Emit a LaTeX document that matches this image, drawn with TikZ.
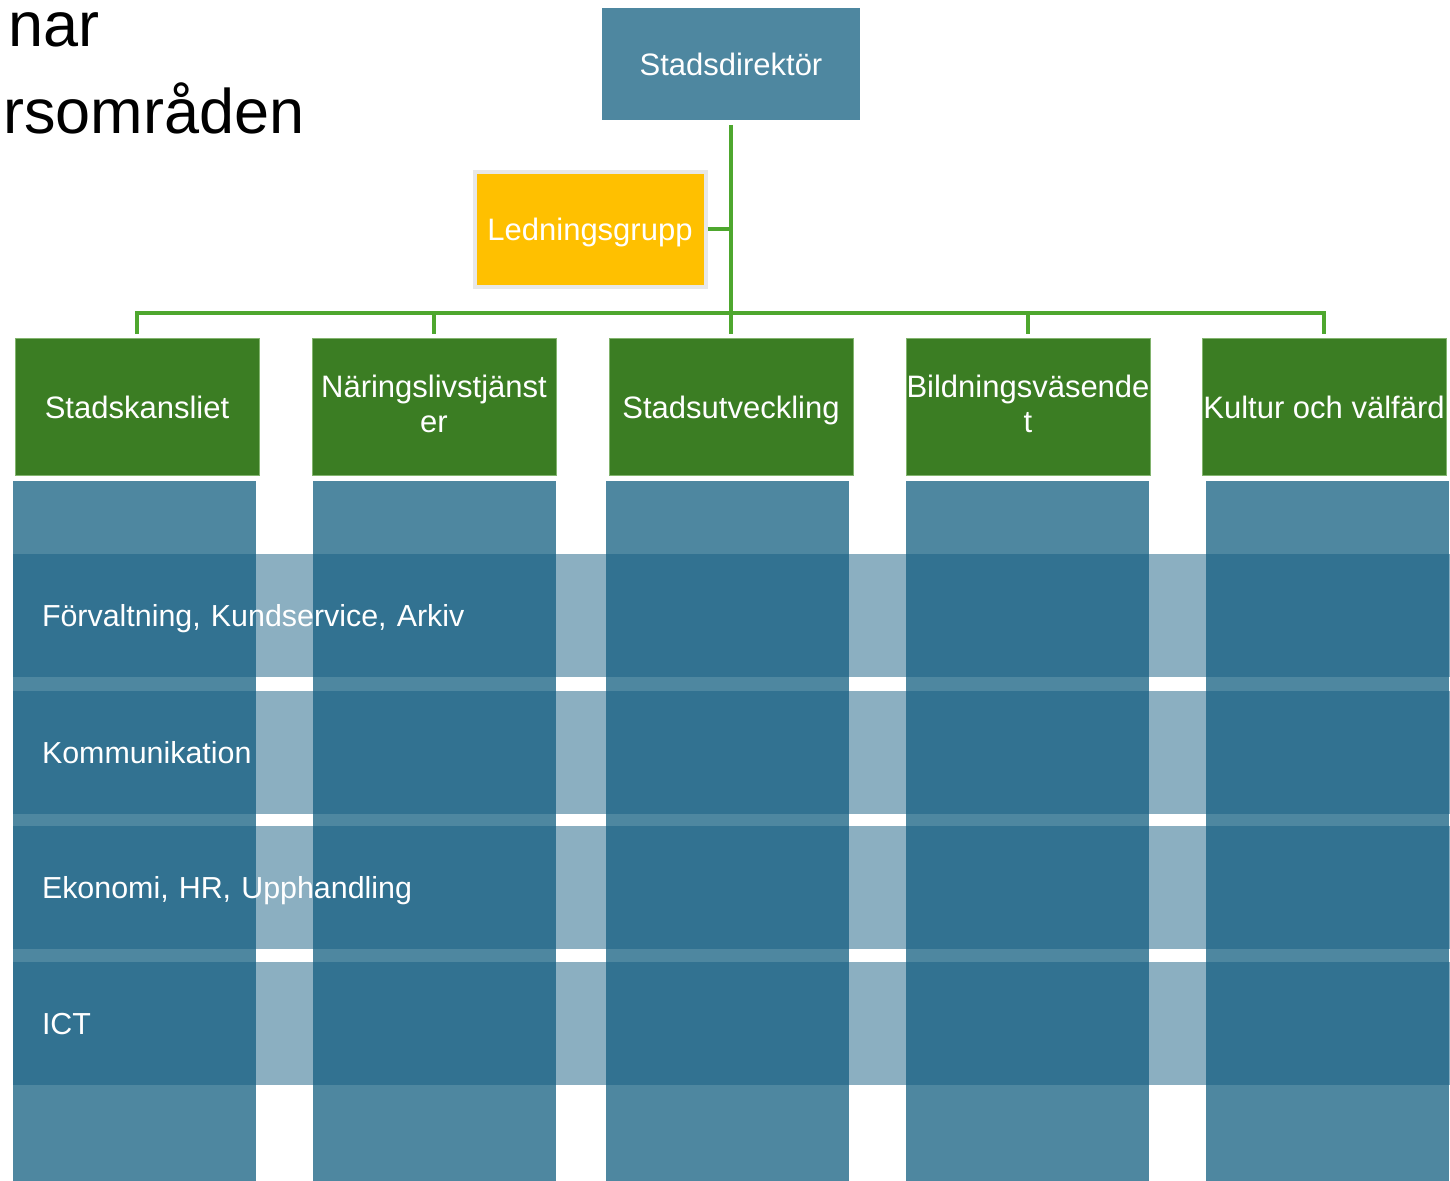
\documentclass[tikz,border=0pt]{standalone}
\usepackage{fontspec}
\setmainfont{Liberation Sans}
\usepackage{tikz}
\usetikzlibrary{positioning}
\definecolor{colblue}{RGB}{78,135,160}
\definecolor{rowblue}{RGB}{23,95,131}
\definecolor{unitgreen}{RGB}{59,125,35}
\definecolor{unitedge}{RGB}{130,180,110}
\definecolor{linegreen}{RGB}{78,167,46}
\definecolor{lgyellow}{RGB}{255,192,0}
\definecolor{lgedge}{RGB}{232,232,232}
\newcommand\boxstrut{\rule[-3.5pt]{0pt}{18.2pt}}
\tikzset{
  boxtext/.style={text=white,font=\fontsize{15.5}{17.5}\selectfont,inner sep=0pt,outer sep=0pt,
    execute at begin node=\boxstrut,execute at end node=\boxstrut},
  topbox/.style={boxtext,fill=colblue,minimum width=129pt,minimum height=56pt},
  lgbox/.style={boxtext,fill=lgyellow,draw=lgedge,line width=2pt,minimum width=115.5pt,minimum height=57.5pt},
  unitbox/.style={boxtext,fill=unitgreen,draw=unitedge,line width=0.5pt,minimum width=122pt,minimum height=68.5pt,align=center},
  rowband/.style={boxtext,font=\fontsize{15.2}{17.5}\selectfont,fill=rowblue,fill opacity=0.5,text opacity=1,text width=691pt,inner xsep=14.5pt,minimum height=61.5pt,align=left,anchor=west},
  conn/.style={draw=linegreen,line width=2pt},
  titletext/.style={font=\fontsize{31.5}{40}\selectfont,inner sep=0pt,anchor=base east}
}

\begin{document}
\begin{tikzpicture}[x=0.5pt,y=-0.5pt]
\useasboundingbox (0,0) rectangle (1450,1181);
% title, as far as the page shows it
\node[titletext] (tnar) at (100,47) {nar};
\node[titletext] (tomr) at (305,134) {rsområden};
% top of the organisation
\node[topbox] (dir) at (731,64) {Stadsdirektör};
\node[lgbox] (lg) at (590,229.5) {Ledningsgrupp};
% sectors
\node[unitbox] (kansli) at (137,407.5) {Stadskansliet};
\node[unitbox] (naring) at (434,407.5) {Näringslivstjänst\\er};
\node[unitbox] (utv) at (731,407.5) {Stadsutveckling};
\node[unitbox] (bildn) at (1028,407.5) {Bildningsväsende\\t};
\node[unitbox] (kultur) at (1324,407.5) {Kultur och välfärd};
% connectors
\coordinate (bus) at (731,313);
\draw[conn,shorten <=2.5pt] (dir.south) -- (bus);
\draw[conn,shorten <=1pt] (lg.east) -- (lg.east -| bus);
\draw[conn,shorten <=2.5pt,shorten >=2.5pt] (kansli.north) |- (bus) -| (kultur.north);
\foreach \u in {naring,utv,bildn}
  \draw[conn,shorten >=2.5pt] (bus -| \u.north) -- (\u.north);
% columns under each sector
\foreach \x in {13,313,606,906,1206}
  \fill[colblue] (\x,481) rectangle ++(243,710);
% shared functions across the sectors
\node[rowband] (forv) at (13,615.5) {Förvaltning, Kundservice, Arkiv};
\node[rowband] (komm) at (13,752) {Kommunikation};
\node[rowband] (ekon) at (13,887.5) {Ekonomi, HR, Upphandling};
\node[rowband] (ict) at (13,1023.5) {ICT};
\end{tikzpicture}
\end{document}
